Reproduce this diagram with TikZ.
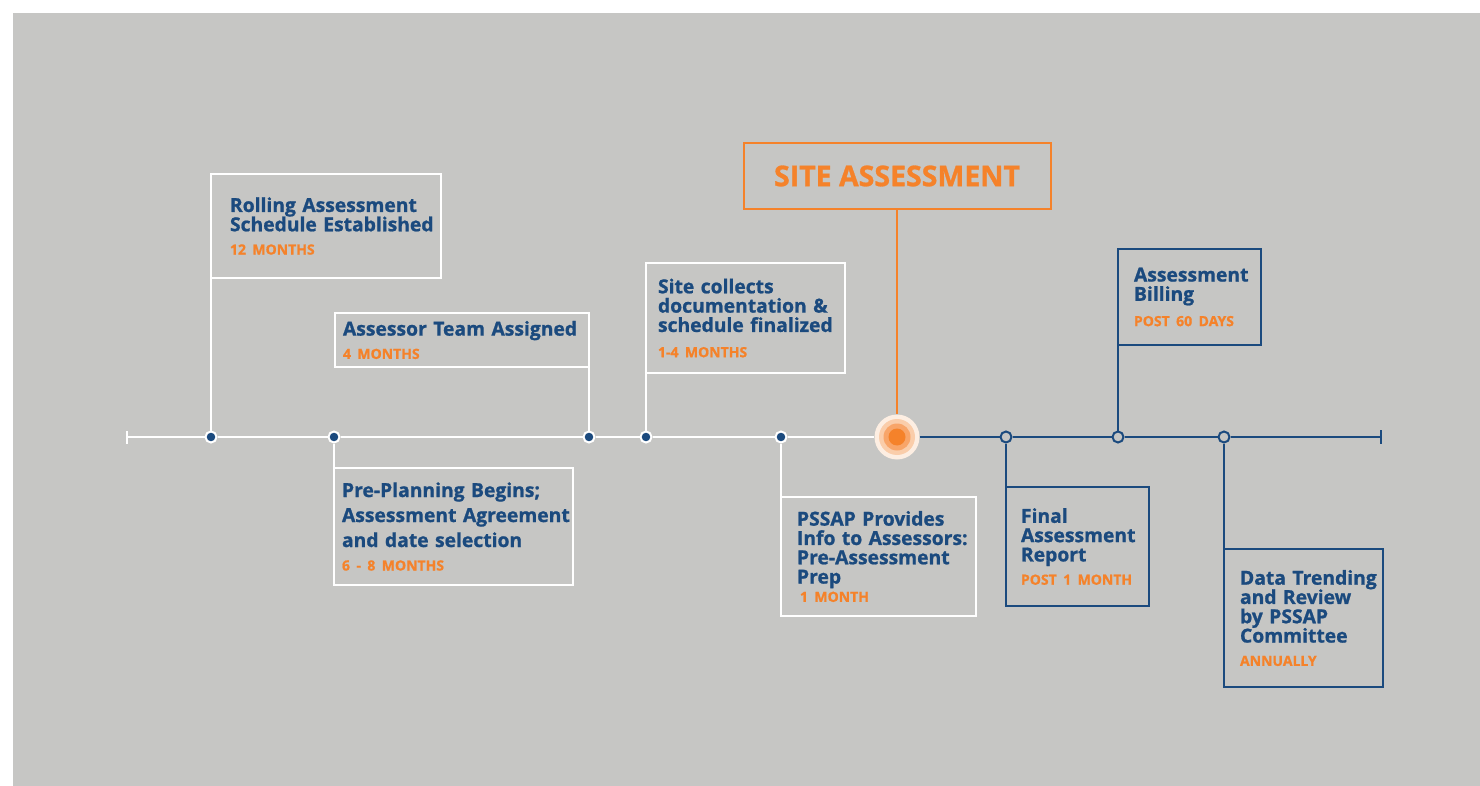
\documentclass[tikz,border=0pt]{standalone}
\usepackage{fontspec}
\setmainfont{Open Sans}[BoldFeatures={FakeBold=1}]
\definecolor{bggray}{RGB}{198, 198, 196}
\definecolor{navy1}{RGB}{27, 74, 126}
\definecolor{orange1}{RGB}{245, 130, 42}
\definecolor{cream1}{RGB}{253, 238, 226}
\definecolor{peach1}{RGB}{250, 205, 170}
\definecolor{orange2}{RGB}{248, 165, 105}
\usetikzlibrary{arrows.meta, positioning}
\hyphenpenalty=10000
\exhyphenpenalty=10000
\hfuzz=200pt

\newcommand{\due}[1]{{\fontsize{14}{19.3}\selectfont\color{orange1}#1}}

\begin{document}
\begin{tikzpicture}[x=1pt, y=-1pt,
    phase/.style={anchor=north west, inner ysep=0pt, outer sep=0pt, align=left, line width=2pt,
      text=navy1, font=\fontsize{19.3}{19.3}\selectfont\bfseries},
    whitebox/.style={phase, draw=white},
    bluebox/.style={phase, draw=navy1},
    whiteline/.style={draw=white, line width=2pt},
    blueline/.style={draw=navy1, line width=2pt},
    dot/.style={circle, fill=navy1, draw=white, line width=2pt, inner sep=0pt, minimum size=11pt},
    opendot/.style={circle, fill=bggray, draw=navy1, line width=2pt, inner sep=0pt, minimum size=11pt}]

  % background
  \useasboundingbox (0,0) rectangle (1480,786);
  \fill[bggray] (13,13) rectangle (1480,786);

  % timeline points
  \coordinate (tstart) at (126,437);
  \coordinate (tend) at (1382,437);
  \node[dot] (d1) at (211,437) {};
  \node[dot] (d2) at (334,437) {};
  \node[dot] (d3) at (589,437) {};
  \node[dot] (d4) at (646,437) {};
  \node[dot] (d5) at (781,437) {};
  \node[opendot] (f1) at (1006,437) {};
  \node[opendot] (f2) at (1118,437) {};
  \node[opendot] (f3) at (1224,437) {};

  % site assessment marker
  \node[circle, fill=cream1, inner sep=0pt, minimum size=45pt] (siteouter) at (897,437) {};
  \node[circle, fill=peach1, inner sep=0pt, minimum size=36pt] (sitering) at (siteouter) {};
  \node[circle, fill=orange2, inner sep=0pt, minimum size=27pt] (sitemid) at (siteouter) {};
  \node[circle, fill=orange1, inner sep=0pt, minimum size=17pt] (sitecore) at (siteouter) {};

  % before the site visit
  \node[whitebox, text width=192pt, inner xsep=19pt, minimum height=104pt] (rolling) at (211,174) {
    Rolling~Assessment\\Schedule~Established\\[4pt]
    \due{12~MONTHS}
  };
  \node[whitebox, text width=238pt, inner xsep=8pt, minimum height=54pt] (assessor) at (335,313) {
    Assessor~Team~Assigned\\[4pt]
    \due{4~MONTHS}
  };
  \node[whitebox, text width=223pt, inner xsep=8pt, minimum height=117pt,
    font=\fontsize{19.3}{25}\selectfont\bfseries] (preplan) at (334,468) {
    Pre-Planning~Begins;\\Assessment~Agreement\\and~date~selection\\[-1.5pt]
    \due{6~-~8~MONTHS}
  };
  \node[whitebox, text width=175pt, inner xsep=12pt, minimum height=110pt] (collects) at (646,263) {
    Site~collects\\documentation~\&\\schedule~finalized\\[6pt]
    \due{1-4~MONTHS}
  };
  \node[whitebox, text width=163pt, inner xsep=16pt, minimum height=119pt] (pssap) at (781,497) {
    PSSAP~Provides\\Info~to~Assessors:\\Pre-Assessment\\Prep\\[-1pt]
    \hspace*{3pt}\due{1~MONTH}
  };

  % site assessment
  \node[draw=orange1, line width=2pt, anchor=north, minimum width=307pt, minimum height=66pt,
    text=orange1, font=\fontsize{28.5}{30}\selectfont\bfseries] (sa) at (897,142) {SITE ASSESSMENT};

  % after the site visit
  \node[bluebox, text width=113pt, inner xsep=15pt, minimum height=119pt] (final) at (1006,487) {
    Final\\Assessment\\Report\\[4pt]
    \due{POST~1~MONTH}
  };
  \node[bluebox, text width=111pt, inner xsep=16pt, minimum height=96pt] (billing) at (1118,249) {
    Assessment\\Billing\\[6pt]
    \due{POST~60~DAYS}
  };
  \node[bluebox, text width=127pt, inner xsep=16pt, minimum height=138pt] (trending) at (1224,549) {
    Data~Trending\\and~Review\\by~PSSAP\\Committee\\[4pt]
    \due{ANNUALLY}
  };

  % timeline
  \draw[whiteline, {Bar[width=13pt]}-] (tstart) -- (d1);
  \draw[whiteline] (d1) -- (d2) -- (d3) -- (d4) -- (d5) -- (siteouter);
  \draw[blueline] (siteouter) -- (f1) -- (f2) -- (f3);
  \draw[blueline, -{Bar[width=14pt]}] (f3) -- (tend);

  % connectors
  \draw[whiteline] (rolling.south west) -- (d1);
  \draw[whiteline] (assessor.south east) -- (d3);
  \draw[whiteline] (preplan.north west) -- (d2);
  \draw[whiteline] (collects.south west) -- (d4);
  \draw[whiteline] (pssap.north west) -- (d5);
  \draw[draw=orange1, line width=2pt] (sa) -- (siteouter);
  \draw[blueline] (final.north west) -- (f1);
  \draw[blueline] (billing.south west) -- (f2);
  \draw[blueline] (trending.north west) -- (f3);
\end{tikzpicture}
\end{document}
